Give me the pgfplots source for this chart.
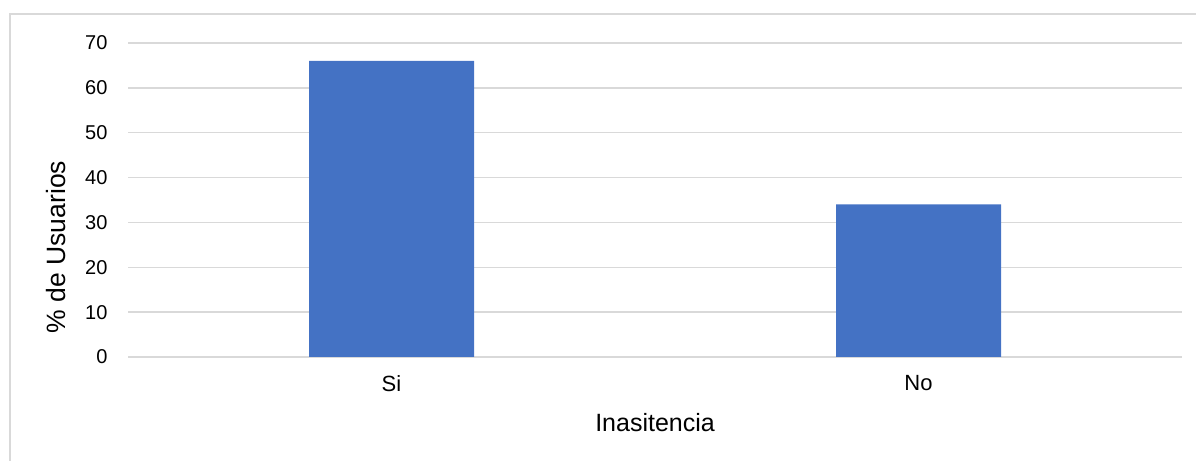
\documentclass[border=0pt]{standalone}
\usepackage{pgfplots}
\pgfplotsset{compat=1.18}
\usepackage{fontspec}
\setmainfont{Liberation Sans}
\definecolor{barblue}{HTML}{4472C4}
\definecolor{gridgray}{HTML}{D9D9D9}
\begin{document}
\begin{tikzpicture}[x=1bp,y=1bp]
% page size = reference size
\path[use as bounding box] (0,0) rectangle (1196,461);
% chart frame (left and top edges visible)
\draw[gridgray, line width=1.5bp] (10,0) -- (10,447) -- (1196,447);
\begin{axis}[
    at={(128bp,104bp)}, anchor=south west,
    scale only axis,
    width=1054bp, height=314bp,
    ybar, bar width=165bp,
    xmin=-0.5, xmax=1.5,
    ymin=0, ymax=70,
    xtick={0,1}, xticklabels={Si,No},
    ytick={0,10,...,70},
    ymajorgrids,
    grid style={gridgray, line width=1.4bp},
    axis x line*=bottom,
    x axis line style={draw=gridgray, line width=1.4bp, -},
    y axis line style={draw=none},
    axis y line*=left,
    major tick length=0pt,
    yticklabel style={font=\fontsize{20bp}{24bp}\selectfont, xshift=-17bp},
    xticklabel style={font=\fontsize{22bp}{24bp}\selectfont, yshift=-15bp},
    /pgf/number format/assume math mode=true,
    ylabel={\% de Usuarios},
    xlabel={Inasitencia},
    xlabel style={font=\fontsize{25bp}{28bp}\selectfont, yshift=-15bp},
    ylabel style={font=\fontsize{26.5bp}{28bp}\selectfont,
        at={(axis description cs:-0.068,0.35)}, anchor=center},
]
\addplot[fill=barblue, draw=none] coordinates {(0,66) (1,34)};
\end{axis}
\end{tikzpicture}
\end{document}
